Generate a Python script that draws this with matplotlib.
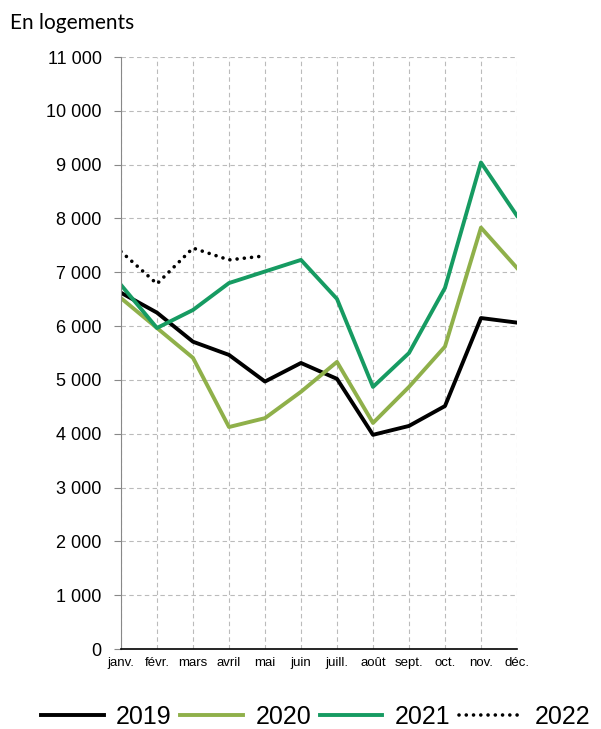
import matplotlib
matplotlib.use("Agg")
import matplotlib.pyplot as plt
from matplotlib.ticker import FuncFormatter, MultipleLocator

months = ["janv.", "févr.", "mars", "avril", "mai", "juin", "juill.", "août", "sept.", "oct.", "nov.", "déc."]
s2019 = [6620, 6250, 5710, 5465, 4970, 5315, 5020, 3980, 4145, 4515, 6150, 6065]
s2020 = [6520, 5965, 5410, 4125, 4290, 4780, 5335, 4200, 4870, 5620, 7830, 7080]
s2021 = [6765, 5965, 6300, 6800, 7015, 7230, 6505, 4870, 5500, 6710, 9040, 8050]
s2022 = [7385, 6785, 7450, 7230, 7305]

plt.rcParams['font.family'] = ['Liberation Sans', 'DejaVu Sans']

fig = plt.figure(figsize=(6.01, 7.29), dpi=100)
ax = fig.add_axes([0.2013, 0.1097, 0.6589, 0.8121])

x = list(range(len(months)))
ax.plot(x, s2019, color="#000000", lw=2.8, label="2019")
ax.plot(x, s2020, color="#8fb04a", lw=2.8, label="2020")
ax.plot(x, s2021, color="#169b62", lw=2.8, label="2021")
ax.plot(x[:len(s2022)], s2022, color="#000000", lw=2.6, ls=(0, (0.01, 2.0)),
        label="2022", dash_capstyle="round")

ax.set_xlim(0, 11)
ax.set_ylim(0, 11000)
ax.yaxis.set_major_locator(MultipleLocator(1000))
ax.yaxis.set_major_formatter(FuncFormatter(lambda v, p: f"{int(v):,}".replace(",", " ")))
ax.set_xticks(x)
ax.set_xticklabels(months, fontsize=9.5)
ax.tick_params(axis="x", length=0, pad=6)
ax.tick_params(axis="y", labelsize=13, length=5, color="#888888", pad=9)

ax.grid(True, ls=(0, (4, 3)), color="#bbbbbb", lw=0.8)
ax.set_axisbelow(True)
for sp in ["top", "right"]:
    ax.spines[sp].set_visible(False)
ax.spines["left"].set_color("#888888")
ax.spines["bottom"].set_color("#000000")
ax.spines["bottom"].set_linewidth(1.2)

fig.text(0.017, 0.968, "En logements", fontsize=15, family=["Lato", "DejaVu Sans"], va="center")

fig.legend(loc="center", bbox_to_anchor=(0.525, 0.0165), ncol=4, frameon=False,
           fontsize=18, handlelength=2.5, handletextpad=0.5, columnspacing=0.35)

fig.savefig("out.png", dpi=100)
